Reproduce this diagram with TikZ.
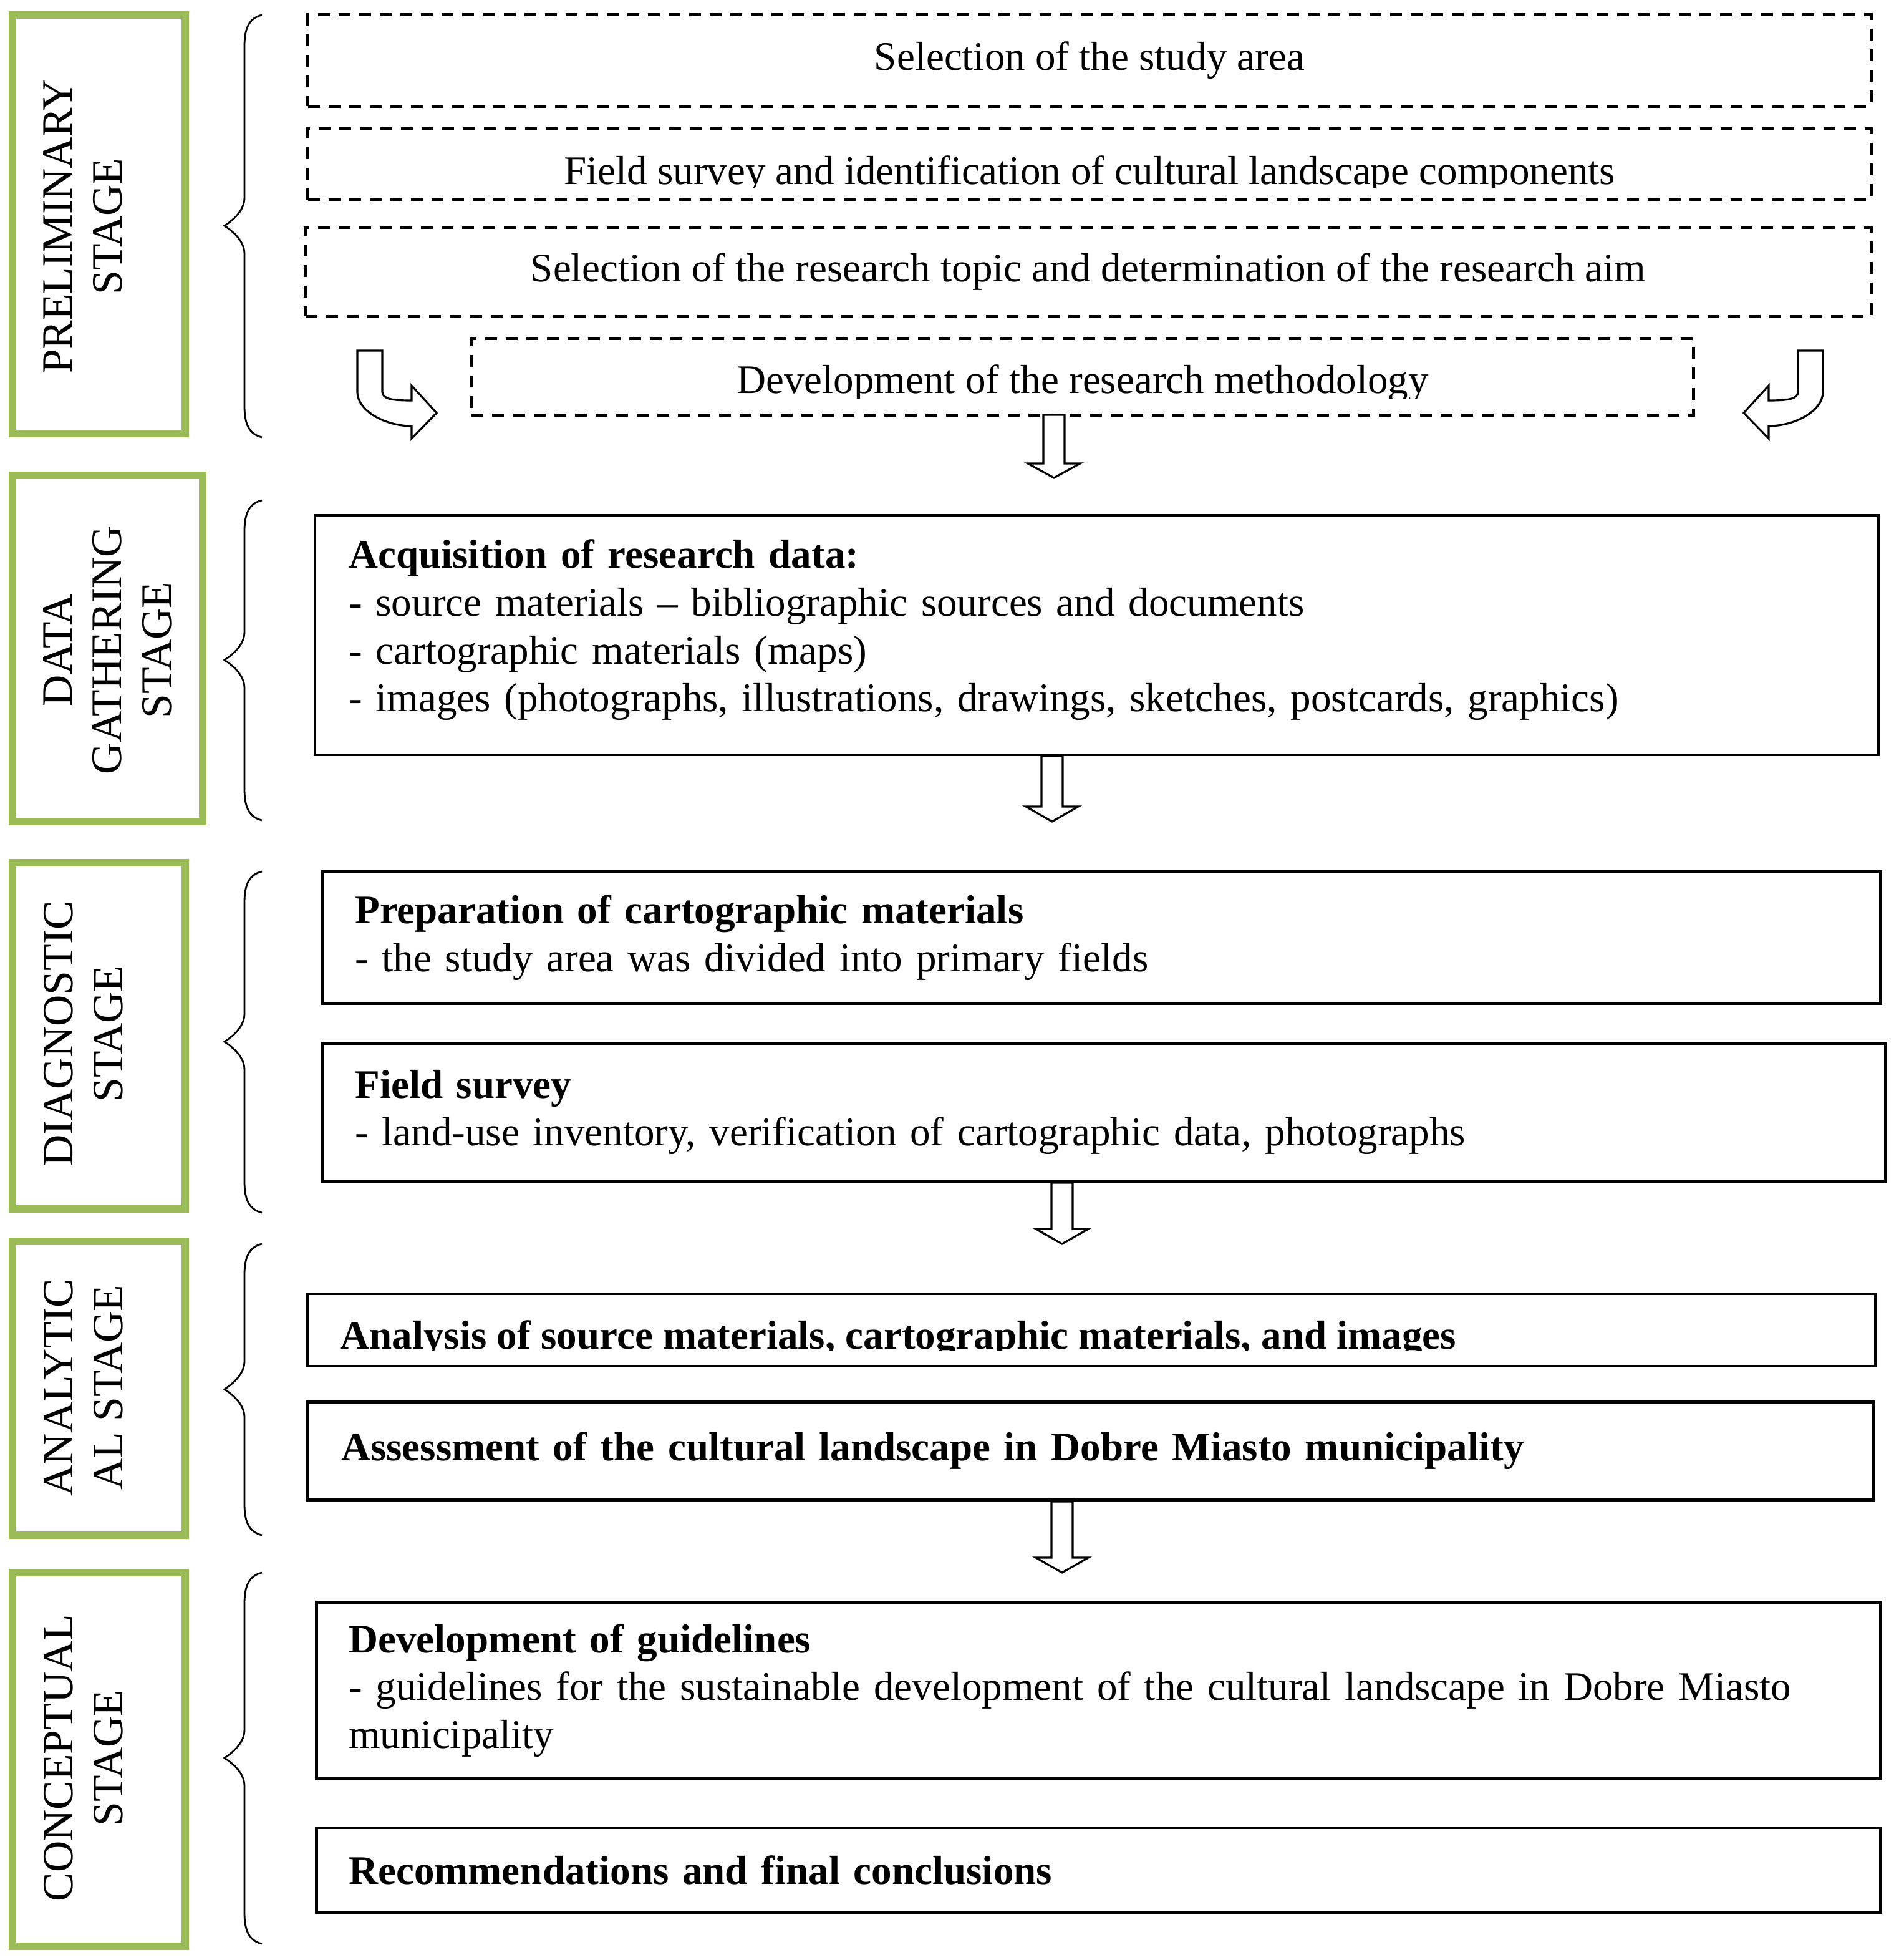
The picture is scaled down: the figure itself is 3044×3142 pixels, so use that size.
\documentclass[tikz,border=0pt]{standalone}
\usepackage{fontspec}
\setmainfont{Liberation Serif}
\definecolor{stagegreen}{HTML}{9BBB59}
\newcommand\stgbrace[3]{%
  \draw[bracestyle] (420,#1) .. controls (400,#1+5) and (392,#1+20) .. (392,#1+50)
    -- (392,#2-45) .. controls (392,#2-25) and (375,#2-10) .. (360,#2)
    .. controls (375,#2+10) and (392,#2+25) .. (392,#2+45)
    -- (392,#3-50) .. controls (392,#3-20) and (400,#3-5) .. (420,#3);}
\newcommand\blockdown[4]{%
  \draw[barrow] (#1-17,#2) -- (#1-17,#3) -- (#1-42,#3) -- (#1,#4) -- (#1+42,#3) -- (#1+17,#3) -- (#1+17,#2) -- cycle;}
\begin{document}
\begin{tikzpicture}[x=0.01cm,y=-0.01cm,
  every node/.style={font=\fontsize{18.5}{21.8}\selectfont},
  stagebox/.style={draw=stagegreen, line width=3.2pt},
  stagelabel/.style={rotate=90, align=center, inner sep=0pt, font=\fontsize{19.8}{22.6}\selectfont},
  bracestyle/.style={line width=0.8pt, black},
  dbox/.style={draw, line width=1.4pt, dash pattern=on 5.4pt off 4pt, inner sep=0pt},
  sbox/.style={draw, line width=1.3pt, anchor=west, align=left, inner ysep=0pt, inner xsep=0.52cm},
  barrow/.style={draw, fill=white, line width=0.9pt, line join=miter},
  txt/.style={inner sep=0pt}]
\useasboundingbox (0,0) rectangle (3044,3142);
\fill[white] (0,0) rectangle (3044,3142);

% stage boxes
\draw[stagebox] (20,24) rectangle (297,695);
\draw[stagebox] (20,762) rectangle (325,1317);
\draw[stagebox] (20,1383) rectangle (297,1938);
\draw[stagebox] (20,1990) rectangle (297,2461);
\draw[stagebox] (20,2521) rectangle (297,3120);
\node[stagelabel] (s1) at (133,363) {PRELIMINARY\\STAGE};
\node[stagelabel] (s2) at (172,1042) {DATA\\GATHERING\\STAGE};
\node[stagelabel] (s3) at (134,1657) {DIAGNOSTIC\\STAGE};
\node[stagelabel] (s4) at (134,2224) {ANALYTIC\\AL STAGE};
\node[stagelabel] (s5) at (134,2818) {CONCEPTUAL\\STAGE};

% braces
\stgbrace{24}{362}{701}
\stgbrace{802}{1058}{1315}
\stgbrace{1397}{1670}{1944}
\stgbrace{1994}{2227}{2461}
\stgbrace{2521}{2818}{3116}

% preliminary dashed boxes
\node[dbox, minimum width=25.05cm, minimum height=1.46cm] (d1) at (1747,97) {Selection of the study area};
\node[dbox, minimum width=25.05cm, minimum height=1.14cm] (d2) at (1747,263) {};
\begin{scope}
\clip (495,210) rectangle (3000,300);
\node[txt, anchor=base] (d2t) at (1747,295) {Field survey and identification of cultural landscape components};
\end{scope}
\node[dbox, minimum width=25.09cm, minimum height=1.42cm] (d3) at (1745,436) {Selection of the research topic and determination of the research aim};
\node[dbox, minimum width=19.58cm, minimum height=1.22cm] (d4) at (1736,604) {};
\begin{scope}
\clip (760,548) rectangle (2712,638);
\node[txt, anchor=base] (d4t) at (1736,630) {Development of the research methodology};
\end{scope}

% curved arrows
\draw[barrow] (573,562) -- (613,562) -- (613,628) .. controls (613,640) and (630,642) .. (660,642)
  -- (660,618) -- (700,662) -- (660,703) -- (660,683) .. controls (620,683) and (573,660) .. (573,628) -- cycle;
\draw[barrow] (2923,562) -- (2883,562) -- (2883,628) .. controls (2883,640) and (2866,642) .. (2836,642)
  -- (2836,618) -- (2796,662) -- (2836,703) -- (2836,683) .. controls (2876,683) and (2923,660) .. (2923,628) -- cycle;

% block arrows
\blockdown{1690}{665}{743}{766}
\blockdown{1687}{1212}{1293}{1317}
\blockdown{1703}{1896}{1970}{1994}
\blockdown{1703}{2407}{2497}{2521}

% data gathering
\draw[line width=1.3pt] (505,826) rectangle (3012,1210);
\node[sbox, draw=none, text width=24.03cm] (acq) at (505,1010) {\textbf{Acquisition of research data:}\\- source materials -- bibliographic sources and documents\\- cartographic materials (maps)\\- images (photographs, illustrations, drawings, sketches, postcards, graphics)};

% diagnostic
\node[sbox, minimum height=2.12cm, text width=23.93cm] (prep) at (515,1503) {\textbf{Preparation of cartographic materials}\\- the study area was divided into primary fields};
\node[sbox, minimum height=2.21cm, text width=24.01cm] (field) at (515,1783) {\textbf{Field survey}\\- land-use inventory, verification of cartographic data, photographs};

% analytical
\node[sbox, minimum height=1.16cm, text width=24.05cm, inner xsep=0.54cm] (anal) at (491,2132) {};
\begin{scope}
\clip (495,2078) rectangle (2996,2165);
\node[txt, anchor=base west] (analt) at (545,2162) {\textbf{Analysis of source materials, cartographic materials, and images}};
\end{scope}
\node[sbox, minimum height=1.57cm, text width=24.01cm, inner xsep=0.54cm] (assess) at (491,2326) {\textbf{Assessment of the cultural landscape in Dobre Miasto municipality}};

% conceptual
\node[sbox, minimum height=2.83cm, text width=24.03cm] (guide) at (505,2710) {\textbf{Development of guidelines}\\- guidelines for the sustainable development of the cultural landscape in Dobre Miasto\\municipality};
\node[sbox, minimum height=1.36cm, text width=24.03cm] (recom) at (505,2998) {\textbf{Recommendations and final conclusions}};
\end{tikzpicture}
\end{document}
